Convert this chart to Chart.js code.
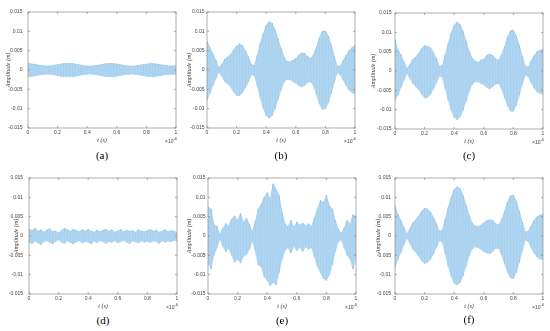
<!DOCTYPE html>
<html><head><meta charset="utf-8">
<script src="https://cdn.jsdelivr.net/npm/chart.js@4.4.0/dist/chart.umd.min.js"></script>
<style>
html,body{margin:0;padding:0;background:#fff;width:550px;height:331px;overflow:hidden}
.panel{position:absolute}
.cap{position:absolute;font-family:"Liberation Serif","Times New Roman",serif;font-size:11px;color:#000;transform:translate(-50%,-50%);white-space:nowrap}
</style></head><body>
<script>
// ---- data (t in units of 1e-6 s, amplitude in m) ----
const tValues = [0,0.02,0.04,0.06,0.08,0.10,0.12,0.14,0.16,0.18,
 0.20,0.22,0.24,0.26,0.28,0.30,0.32,0.34,0.36,0.38,
 0.40,0.42,0.44,0.46,0.48,0.50,0.52,0.54,0.56,0.58,
 0.60,0.62,0.64,0.66,0.68,0.70,0.72,0.74,0.76,0.78,
 0.80,0.82,0.84,0.86,0.88,0.90,0.92,0.94,0.96,0.98,1.00];
const xTickValues = [0,0.2,0.4,0.6,0.8,1];
const xTickLabels = ["0","0.2","0.4","0.6","0.8","1"];
const yTickValues = [-0.015,-0.01,-0.005,0,0.005,0.01,0.015];
const yTickLabels = ["-0.015","-0.01","-0.005","0","0.005","0.01","0.015"];
const captions = ["(a)","(b)","(c)","(d)","(e)","(f)"];
const xTitle = "t (s)";
const yTitle = "Amplitude (m)";

const aUpper = [0.0017,0.0016,0.0015,0.00135,0.0012,0.0011,0.00105,0.00105,0.0011,0.00125,
 0.0014,0.00155,0.00165,0.0017,0.0017,0.00165,0.00155,0.0014,0.00125,0.0011,
 0.00105,0.001,0.00105,0.00115,0.0013,0.00145,0.0016,0.00165,0.0017,0.00165,
 0.00155,0.0014,0.00125,0.0011,0.00105,0.001,0.00105,0.00115,0.0013,0.00145,
 0.00155,0.00165,0.00165,0.0016,0.0015,0.00135,0.0012,0.0011,0.00105,0.00105,0.0011];
const aLower = [-0.0017,-0.00165,-0.00155,-0.0014,-0.00125,-0.00115,-0.0011,-0.0011,-0.00115,-0.0013,
 -0.00145,-0.0016,-0.0017,-0.00175,-0.00175,-0.0017,-0.0016,-0.00145,-0.0013,-0.00115,
 -0.0011,-0.00105,-0.0011,-0.0012,-0.00135,-0.0015,-0.00165,-0.0017,-0.00175,-0.0017,
 -0.0016,-0.00145,-0.0013,-0.00115,-0.0011,-0.00105,-0.0011,-0.0012,-0.00135,-0.0015,
 -0.0016,-0.0017,-0.0017,-0.00165,-0.00155,-0.0014,-0.00125,-0.00115,-0.0011,-0.0011,-0.00115];

const bUpper = [0.0075,0.0058,0.0042,0.0025,0.0006,0.0014,0.0028,0.0034,0.0040,0.0052,
 0.0062,0.0068,0.0063,0.0050,0.0034,0.0014,0.0012,0.0038,0.0068,0.0094,
 0.0115,0.0125,0.0121,0.0104,0.0080,0.0056,0.0034,0.0022,0.0021,0.0025,
 0.0030,0.0038,0.0044,0.0043,0.0035,0.0029,0.0040,0.0060,0.0084,0.0100,
 0.0101,0.0088,0.0064,0.0036,0.0010,0.0010,0.0024,0.0038,0.0050,0.0058,0.0064];
const bLower = [-0.0078,-0.0060,-0.0040,-0.0022,-0.0005,-0.0016,-0.0030,-0.0036,-0.0044,-0.0056,
 -0.0066,-0.0066,-0.0058,-0.0045,-0.0030,-0.0012,-0.0014,-0.0042,-0.0072,-0.0098,
 -0.0118,-0.0124,-0.0118,-0.0100,-0.0076,-0.0052,-0.0032,-0.0024,-0.0025,-0.0030,
 -0.0034,-0.0040,-0.0044,-0.0040,-0.0032,-0.0030,-0.0042,-0.0064,-0.0088,-0.0102,
 -0.0100,-0.0085,-0.0060,-0.0032,-0.0008,-0.0012,-0.0026,-0.0040,-0.0052,-0.0058,-0.0062];

const cUpper = [0.0080,0.0055,0.0042,0.0024,0.0006,0.0016,0.0030,0.0036,0.0046,0.0058,
 0.0066,0.0064,0.0060,0.0048,0.0032,0.0012,0.0014,0.0042,0.0072,0.0098,
 0.0118,0.0127,0.0120,0.0102,0.0078,0.0052,0.0034,0.0026,0.0022,0.0028,
 0.0030,0.0040,0.0044,0.0040,0.0032,0.0028,0.0042,0.0062,0.0088,0.0104,
 0.0106,0.0090,0.0066,0.0038,0.0012,0.0010,0.0026,0.0040,0.0050,0.0054,0.0056];
const cLower = [-0.0076,-0.0062,-0.0042,-0.0024,-0.0006,-0.0018,-0.0032,-0.0040,-0.0048,-0.0060,
 -0.0070,-0.0068,-0.0060,-0.0046,-0.0030,-0.0012,-0.0016,-0.0046,-0.0076,-0.0102,
 -0.0120,-0.0126,-0.0118,-0.0102,-0.0078,-0.0054,-0.0036,-0.0028,-0.0028,-0.0032,
 -0.0036,-0.0042,-0.0046,-0.0040,-0.0034,-0.0032,-0.0046,-0.0068,-0.0090,-0.0104,
 -0.0104,-0.0088,-0.0062,-0.0034,-0.0010,-0.0014,-0.0030,-0.0044,-0.0054,-0.0058,-0.0060];

const dUpper = [0.0018,0.0014,0.0020,0.0012,0.0016,0.0010,0.0015,0.0019,0.0011,0.0013,
 0.0008,0.0014,0.0020,0.0016,0.0012,0.0018,0.0014,0.0011,0.0016,0.0013,
 0.0017,0.0012,0.0010,0.0015,0.0011,0.0014,0.0018,0.0012,0.0016,0.0010,
 0.0013,0.0017,0.0011,0.0015,0.0012,0.0014,0.0010,0.0016,0.0013,0.0011,
 0.0014,0.0017,0.0012,0.0015,0.0010,0.0013,0.0016,0.0011,0.0014,0.0012,0.0010];
const dLower = [-0.0016,-0.0020,-0.0013,-0.0018,-0.0022,-0.0015,-0.0012,-0.0017,-0.0020,-0.0014,
 -0.0010,-0.0016,-0.0019,-0.0013,-0.0017,-0.0021,-0.0015,-0.0012,-0.0018,-0.0014,
 -0.0016,-0.0020,-0.0013,-0.0017,-0.0012,-0.0015,-0.0019,-0.0014,-0.0016,-0.0012,
 -0.0018,-0.0015,-0.0011,-0.0016,-0.0020,-0.0013,-0.0015,-0.0018,-0.0012,-0.0016,
 -0.0014,-0.0017,-0.0013,-0.0015,-0.0019,-0.0012,-0.0016,-0.0013,-0.0015,-0.0011,-0.0013];

const eUpper = [0.0075,0.0070,0.0030,0.0025,0.0004,0.0020,0.0032,0.0026,0.0044,0.0052,
 0.0040,0.0058,0.0034,0.0046,0.0030,0.0010,0.0038,0.0070,0.0082,0.0100,
 0.0112,0.0095,0.0135,0.0120,0.0105,0.0062,0.0032,0.0024,0.0040,0.0022,
 0.0036,0.0028,0.0034,0.0026,0.0032,0.0024,0.0048,0.0070,0.0092,0.0086,
 0.0105,0.0078,0.0070,0.0040,0.0018,0.0006,0.0020,0.0040,0.0030,0.0055,0.0050];
const eLower = [-0.0070,-0.0085,-0.0050,-0.0030,-0.0008,-0.0026,-0.0040,-0.0032,-0.0050,-0.0068,
 -0.0060,-0.0070,-0.0052,-0.0048,-0.0034,-0.0012,-0.0040,-0.0075,-0.0080,-0.0105,
 -0.0115,-0.0128,-0.0120,-0.0126,-0.0095,-0.0060,-0.0038,-0.0030,-0.0044,-0.0026,
 -0.0038,-0.0030,-0.0040,-0.0028,-0.0034,-0.0030,-0.0055,-0.0080,-0.0095,-0.0110,
 -0.0115,-0.0100,-0.0075,-0.0040,-0.0015,-0.0010,-0.0030,-0.0050,-0.0060,-0.0085,-0.0060];

const fUpper = [0.0078,0.0056,0.0040,0.0022,0.0005,0.0018,0.0034,0.0042,0.0052,0.0064,
 0.0072,0.0070,0.0062,0.0048,0.0032,0.0012,0.0015,0.0044,0.0074,0.0100,
 0.0120,0.0128,0.0122,0.0104,0.0080,0.0054,0.0034,0.0026,0.0024,0.0028,
 0.0034,0.0040,0.0042,0.0040,0.0032,0.0028,0.0042,0.0064,0.0088,0.0104,
 0.0106,0.0090,0.0064,0.0036,0.0010,0.0012,0.0026,0.0040,0.0050,0.0054,0.0056];
const fLower = [-0.0082,-0.0060,-0.0042,-0.0022,-0.0005,-0.0018,-0.0034,-0.0042,-0.0052,-0.0064,
 -0.0071,-0.0068,-0.0060,-0.0046,-0.0030,-0.0012,-0.0016,-0.0046,-0.0078,-0.0104,
 -0.0122,-0.0127,-0.0120,-0.0102,-0.0078,-0.0052,-0.0034,-0.0028,-0.0030,-0.0034,
 -0.0040,-0.0044,-0.0046,-0.0040,-0.0032,-0.0032,-0.0048,-0.0072,-0.0094,-0.0108,
 -0.0110,-0.0094,-0.0068,-0.0038,-0.0010,-0.0014,-0.0030,-0.0044,-0.0054,-0.0060,-0.0060];

// ---- layout ----
const panels = [
  {up:aUpper, lo:aLower, left:28,  top:12,  capY:155, gap:5.5, ytOff:20},
  {up:bUpper, lo:bLower, left:207, top:12,  capY:155, gap:2.5, ytOff:18},
  {up:cUpper, lo:cLower, left:395, top:13,  capY:155, gap:3.5, ytOff:22},
  {up:dUpper, lo:dLower, left:29,  top:178, capY:320, gap:6,   ytOff:13},
  {up:eUpper, lo:eLower, left:208, top:178, capY:320, gap:2.5, ytOff:19},
  {up:fUpper, lo:fLower, left:395, top:178, capY:319, gap:4,   ytOff:17}
];
const AXW=28, AXH=18, PT=4, PR=8, PW=148, PH=116;
const SANS='"Liberation Sans", Arial, sans-serif';
const SERIF='"Liberation Serif", "Times New Roman", serif';

const matlabAxes = {
  id:'matlabAxes',
  afterDraw(chart, args, opts){
    const {ctx, chartArea:a, scales:{x,y}} = chart;
    ctx.save();
    ctx.strokeStyle='#8a8a8a';
    ctx.lineWidth=0.7;
    ctx.strokeRect(a.left, a.top, a.right-a.left, a.bottom-a.top);
    ctx.beginPath();
    xTickValues.forEach(v=>{
      const px=x.getPixelForValue(v);
      ctx.moveTo(px,a.bottom); ctx.lineTo(px,a.bottom-2);
      ctx.moveTo(px,a.top); ctx.lineTo(px,a.top+2);
    });
    yTickValues.forEach(v=>{
      const py=y.getPixelForValue(v);
      ctx.moveTo(a.left,py); ctx.lineTo(a.left+2,py);
      ctx.moveTo(a.right,py); ctx.lineTo(a.right-2,py);
    });
    ctx.stroke();
    // tick labels
    ctx.fillStyle='#444';
    ctx.font='5px '+SANS;
    ctx.textAlign='center'; ctx.textBaseline='middle';
    xTickValues.forEach((v,i)=>{
      ctx.fillText(xTickLabels[i], x.getPixelForValue(v), a.bottom+5);
    });
    ctx.textAlign='right';
    yTickValues.forEach((v,i)=>{
      ctx.fillText(yTickLabels[i], a.left-opts.gap, y.getPixelForValue(v));
    });
    // axis titles
    ctx.fillStyle='#333';
    ctx.font='italic 6px '+SERIF;
    ctx.textAlign='center';
    ctx.fillText(xTitle, (a.left+a.right)/2, a.bottom+12.3);
    ctx.save();
    ctx.translate(a.left-opts.ytOff, (a.top+a.bottom)/2);
    ctx.rotate(-Math.PI/2);
    ctx.fillText(yTitle, 0, 0);
    ctx.restore();
    // exponent
    ctx.fillStyle='#444';
    ctx.textBaseline='alphabetic';
    ctx.textAlign='right';
    ctx.font='4px '+SANS;
    const sw = ctx.measureText('-6').width;
    ctx.fillText('-6', a.right+1, a.bottom+12);
    ctx.font='5px '+SANS;
    ctx.fillText('\u00d710', a.right+1-sw, a.bottom+15);
    ctx.restore();
  }
};

panels.forEach((p,k)=>{
  const W=AXW+PW+PR, H=PT+PH+AXH;
  const div=document.createElement('div');
  div.className='panel';
  div.style.left=(p.left-AXW)+'px';
  div.style.top=(p.top-PT)+'px';
  div.style.width=W+'px'; div.style.height=H+'px';
  const cv=document.createElement('canvas');
  cv.width=W; cv.height=H;
  cv.style.width=W+'px'; cv.style.height=H+'px';
  div.appendChild(cv);
  document.body.appendChild(div);

  const cap=document.createElement('div');
  cap.className='cap';
  cap.textContent=captions[k];
  cap.style.left=(p.left+PW/2)+'px';
  cap.style.top=p.capY+'px';
  document.body.appendChild(cap);

  const upperPts = tValues.map((t,i)=>({x:t,y:p.up[i]}));
  const lowerPts = tValues.map((t,i)=>({x:t,y:p.lo[i]}));
  const zig=[];
  tValues.forEach((t,i)=>{ zig.push({x:t,y:p.up[i]}); zig.push({x:t,y:p.lo[i]}); });

  new Chart(cv,{
    type:'line',
    data:{datasets:[
      {data:upperPts, borderColor:'rgba(110,175,225,0.7)', borderWidth:0.5, pointRadius:0, fill:'+1', backgroundColor:'rgba(168,210,240,0.9)', tension:0},
      {data:lowerPts, borderColor:'rgba(110,175,225,0.7)', borderWidth:0.5, pointRadius:0, fill:false, tension:0},
      {data:zig, borderColor:'rgba(70,148,210,0.45)', borderWidth:0.5, pointRadius:0, fill:false, tension:0}
    ]},
    options:{
      responsive:false, animation:false, devicePixelRatio:1,
      layout:{padding:{top:PT,right:PR,left:0,bottom:0}},
      plugins:{legend:{display:false}, tooltip:{enabled:false}, matlabAxes:{gap:p.gap, ytOff:p.ytOff}},
      scales:{
        x:{type:'linear', min:0, max:1,
          grid:{display:false, drawTicks:false}, border:{display:false},
          afterBuildTicks:s=>{s.ticks=xTickValues.map(v=>({value:v}));},
          afterFit:s=>{s.height=AXH;},
          ticks:{display:false}, title:{display:false}
        },
        y:{type:'linear', min:-0.015, max:0.015,
          grid:{display:false, drawTicks:false}, border:{display:false},
          afterBuildTicks:s=>{s.ticks=yTickValues.map(v=>({value:v}));},
          afterFit:s=>{s.width=AXW;},
          ticks:{display:false}, title:{display:false}
        }
      }
    },
    plugins:[matlabAxes]
  });
});
</script>
</body></html>
